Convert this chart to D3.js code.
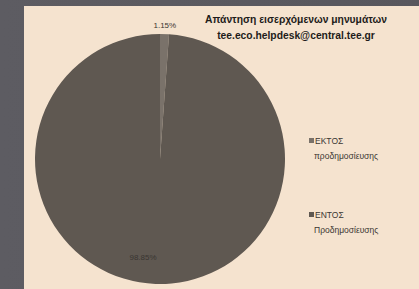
<!DOCTYPE html>
<html lang="el">
<head>
<meta charset="UTF-8">
<title>Απάντηση εισερχόμενων μηνυμάτων</title>
<style>
  body { margin: 0; background: #5b5a60; }
  svg { display: block; }
</style>
</head>
<body>
<script src="https://d3js.org/d3.v7.min.js"></script>
<script>
// data
let categories = ["ΕΚΤΟΣ προδημοσίευσης", "ΕΝΤΟΣ Προδημοσίευσης"];
let legendLines = [["ΕΚΤΟΣ", "προδημοσίευσης"], ["ΕΝΤΟΣ", "Προδημοσίευσης"]];
let values = [1.15, 98.85];
let labels = ["1.15%", "98.85%"];
let titleLines = ["Απάντηση εισερχόμενων μηνυμάτων", "tee.eco.helpdesk@central.tee.gr"];

let W = 419, H = 289;
let colors = ["#7a726a", "#5f5851"];

let s = d3.select('body').append('svg')
    .attr('width', W)
    .attr('height', H);

// backdrop
let grad = s.append('defs').append('linearGradient')
    .attr('id', 'bg').attr('x1', 0).attr('x2', 1).attr('y1', 0).attr('y2', 0);
grad.append('stop').attr('offset', 0).attr('stop-color', '#5d5c62');
grad.append('stop').attr('offset', 1).attr('stop-color', '#58575d');
s.append('rect').attr('width', W).attr('height', H).attr('fill', 'url(#bg)');

// panel
s.append('rect')
    .attr('x', 24).attr('y', 6)
    .attr('width', W - 24).attr('height', H - 6)
    .attr('fill', '#f5e3cf');

// pie
let cx = 160, cy = 159, r = 125;
let pie = d3.pie().sort(null).value(d => d)(values);
let arc = d3.arc().innerRadius(0).outerRadius(r);

let g = s.append('g').attr('transform', `translate(${cx},${cy})`);
g.selectAll('path')
    .data(pie)
    .enter().append('path')
    .attr('d', arc)
    .attr('fill', (d, i) => colors[i]);

// data labels
let labelPos = [
    d3.arc().innerRadius(r + 9).outerRadius(r + 9),
    d3.arc().innerRadius(r * 0.82).outerRadius(r * 0.82)
];
g.selectAll('text.lbl')
    .data(pie)
    .enter().append('text')
    .attr('class', 'lbl')
    .attr('transform', (d, i) => {
        let c = labelPos[i].centroid(d);
        if (i === 1) c = [-17, 98];
        return `translate(${c})`;
    })
    .attr('text-anchor', 'middle')
    .attr('dy', '.35em')
    .style('font-family', 'Liberation Sans, Arial, sans-serif')
    .style('font-size', '8px')
    .style('fill', '#3a3632')
    .text((d, i) => labels[i]);

// title
s.selectAll('text.title')
    .data(titleLines)
    .enter().append('text')
    .attr('class', 'title')
    .attr('x', 296)
    .attr('y', (d, i) => 23 + i * 16)
    .attr('text-anchor', 'middle')
    .style('font-family', 'Liberation Sans, Arial, sans-serif')
    .style('font-size', '10.3px')
    .style('font-weight', 'bold')
    .style('fill', '#1e1c1a')
    .text(d => d);

// legend
let lg = s.selectAll('g.leg')
    .data(categories)
    .enter().append('g')
    .attr('class', 'leg')
    .attr('transform', (d, i) => `translate(309,${141 + i * 74})`);

lg.append('rect')
    .attr('x', 0).attr('y', -3)
    .attr('width', 5).attr('height', 5)
    .attr('fill', (d, i) => colors[i]);

lg.each(function (d, i) {
    d3.select(this).selectAll('text')
        .data(legendLines[i])
        .enter().append('text')
        .attr('x', (t, j) => j === 0 ? 6 : 5)
        .attr('y', (t, j) => 3 + j * 15)
        .style('font-family', 'Liberation Sans, Arial, sans-serif')
        .style('font-size', '8.5px')
        .style('fill', '#3a3632')
        .text(t => t);
});
</script>
</body>
</html>
